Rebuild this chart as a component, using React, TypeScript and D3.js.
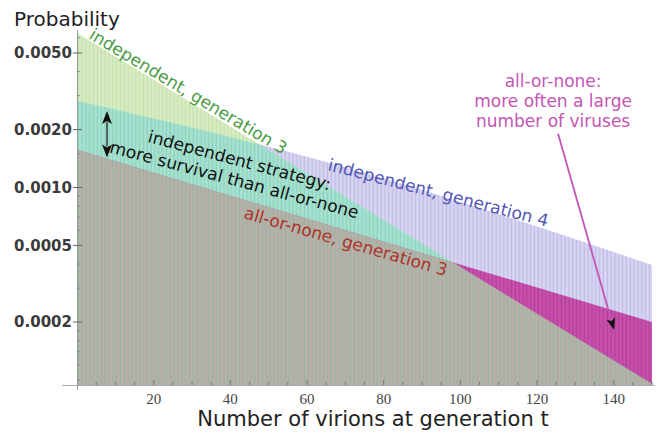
import React from "react";
import * as d3 from "d3";

const WIDTH = 662;
const HEIGHT = 432;

// Probability anchors for each distribution (number of virions -> probability)
const indepGen3X = [0, 150];
const indepGen3P = [0.00635, 0.0000955];
const indepGen4X = [0, 66, 150];
const indepGen4P = [0.00282, 0.00134, 0.000396];
const allOrNoneGen3X = [0, 150];
const allOrNoneGen3P = [0.00157, 0.0002];

// Axes
const xDomain = [0, 150];
const yDomain = [0.0000941, 0.006584];
const xTickValues = [20, 40, 60, 80, 100, 120, 140];
const xMinorValues = d3.range(5, 151, 5);
const yTickValues = [0.0002, 0.0005, 0.001, 0.002, 0.005];
const yTickLabels = ["0.0002", "0.0005", "0.0010", "0.0020", "0.0050"];
const yMinorValues = [
  0.0001, 0.00012, 0.00014, 0.00016, 0.00018, 0.0003, 0.0004, 0.0006, 0.0007,
  0.0008, 0.0009, 0.0015, 0.003, 0.004, 0.006,
];

const FONT = "DejaVu Sans, Verdana, sans-serif";

const fills: Record<string, { base: string; stripe: string; w: number }> = {
  lavender: { base: "#d8d6f2", stripe: "#c0bde6", w: 1.4 },
  green: { base: "#d9edc4", stripe: "#c5e2ad", w: 1.4 },
  teal: { base: "#a9e2d1", stripe: "#8dd3bf", w: 1.4 },
  magenta: { base: "#c851ad", stripe: "#b4409a", w: 1.4 },
  gray: { base: "#bfaeaa", stripe: "#9ab5a3", w: 1.7 },
};

export default function App() {
  const x = d3.scaleLinear().domain(xDomain).range([77, 652]);
  const y = d3.scaleLog().domain(yDomain).range([385, 30]);
  const yBase = y.range()[0];
  const step = x(1) - x(0);

  const areaOf = (xs: number[], ps: number[], curve: d3.CurveFactory) =>
    d3
      .area<number>()
      .x((_, i) => x(xs[i]))
      .y0(yBase)
      .y1((_, i) => y(ps[i]))
      .curve(curve)(xs) as string;

  const areaG = areaOf(indepGen3X, indepGen3P, d3.curveLinear);
  const areaB = areaOf(indepGen4X, indepGen4P, d3.curveMonotoneX);
  const areaA = areaOf(allOrNoneGen3X, allOrNoneGen3P, d3.curveLinear);

  // magenta annotation arrow (data coordinates)
  const arrowFrom = [x(125.5), y(0.0019)];
  const arrowTip = [x(140.1), y(0.000182)];
  const dx = arrowTip[0] - arrowFrom[0];
  const dy = arrowTip[1] - arrowFrom[1];
  const len = Math.hypot(dx, dy);
  const ux = dx / len;
  const uy = dy / len;
  const headL = 12;
  const headW = 4.5;
  const headBase = [arrowTip[0] - ux * headL, arrowTip[1] - uy * headL];
  const head = [
    arrowTip,
    [headBase[0] - uy * headW, headBase[1] + ux * headW],
    [arrowTip[0] - ux * (headL - 3), arrowTip[1] - uy * (headL - 3)],
    [headBase[0] + uy * headW, headBase[1] - ux * headW],
  ];

  // double arrow between the two strategies
  const daX = x(7.83);
  const daTop = y(0.0025);
  const daBot = y(0.00143);
  const dHeadL = 13;
  const dHeadW = 5;

  const label = (
    xv: number,
    pv: number,
    angle: number,
    text: string,
    color: string,
    anchor = "start"
  ) => (
    <text
      transform={`translate(${x(xv)},${y(pv)}) rotate(${angle})`}
      fill={color}
      fontSize={17}
      fontFamily={FONT}
      textAnchor={anchor}
    >
      {text}
    </text>
  );

  return (
    <svg
      width={WIDTH}
      height={HEIGHT}
      style={{ position: "absolute", left: 0, top: 0, background: "#fff" }}
    >
      <defs>
        {Object.entries(fills).map(([k, f]) => (
          <pattern
            key={k}
            id={`p-${k}`}
            patternUnits="userSpaceOnUse"
            x={x(0)}
            y={0}
            width={step}
            height={10}
          >
            <rect width={step} height={10} fill={f.base} />
            <rect x={0.6} width={f.w} height={10} fill={f.stripe} />
          </pattern>
        ))}
        <clipPath id="under-b">
          <path d={areaB} />
        </clipPath>
        <clipPath id="under-a">
          <path d={areaA} />
        </clipPath>
      </defs>

      {/* filled distributions */}
      <path d={areaB} fill="url(#p-lavender)" />
      <path d={areaG} fill="url(#p-green)" />
      <path d={areaG} fill="url(#p-teal)" clipPath="url(#under-b)" />
      <path d={areaA} fill="url(#p-magenta)" />
      <path d={areaG} fill="url(#p-gray)" clipPath="url(#under-a)" />

      {/* x axis */}
      <line x1={62} x2={655} y1={yBase + 0.5} y2={yBase + 0.5} stroke="#aaa" strokeWidth={1} />
      {xMinorValues.map((v) => (
        <line
          key={`xm${v}`}
          x1={x(v)}
          x2={x(v)}
          y1={yBase}
          y2={yBase - (v % 20 === 0 ? 5 : 3)}
          stroke="#777"
          strokeWidth={1}
        />
      ))}
      {xTickValues.map((v) => (
        <text
          key={`xt${v}`}
          x={x(v)}
          y={404}
          textAnchor="middle"
          fontFamily="Liberation Serif, Times New Roman, serif"
          fontSize={15}
          fill="#444"
        >
          {v}
        </text>
      ))}
      <text
        x={373}
        y={426}
        textAnchor="middle"
        fontFamily={FONT}
        fontSize={21}
        fill="#222"
      >
        Number of virions at generation t
      </text>

      {/* y axis */}
      <line x1={77.5} x2={77.5} y1={30} y2={390} stroke="#999" strokeWidth={1} />
      {yMinorValues.map((v) => (
        <line key={`ym${v}`} x1={77} x2={80} y1={y(v)} y2={y(v)} stroke="#888" strokeWidth={1} />
      ))}
      {yTickValues.map((v, i) => (
        <g key={`yt${v}`}>
          <line x1={73} x2={82} y1={y(v)} y2={y(v)} stroke="#666" strokeWidth={1} />
          <text
            x={72}
            y={y(v)}
            dy="0.36em"
            textAnchor="end"
            fontFamily={FONT}
            fontWeight="bold"
            fontSize={15}
            fill="#3a3a3a"
          >
            {yTickLabels[i]}
          </text>
        </g>
      ))}
      <text x={14} y={26} fontFamily={FONT} fontSize={20} fill="#222">
        Probability
      </text>

      {/* curve labels */}
      {label(2.87, 0.00598, 31, "independent, generation 3", "#4b9c44")}
      {label(65.2, 0.001233, 14.5, "independent, generation 4", "#5357b5")}
      {label(43.3, 0.000694, 16, "all-or-none, generation 3", "#b0322a")}
      <g transform={`translate(${x(42)},${y(0.001293)}) rotate(15)`}>
        <text textAnchor="middle" fontFamily={FONT} fontSize={17} fill="#111" y={0}>
          independent strategy:
        </text>
        <text textAnchor="middle" fontFamily={FONT} fontSize={17} fill="#111" y={20}>
          more survival than all-or-none
        </text>
      </g>

      {/* double arrow */}
      <line x1={daX} x2={daX} y1={daTop + dHeadL - 2} y2={daBot - dHeadL + 2} stroke="#222" strokeWidth={1.3} />
      <polygon
        points={`${daX},${daTop} ${daX - dHeadW},${daTop + dHeadL} ${daX},${daTop + dHeadL - 3} ${daX + dHeadW},${daTop + dHeadL}`}
        fill="#111"
      />
      <polygon
        points={`${daX},${daBot} ${daX - dHeadW},${daBot - dHeadL} ${daX},${daBot - dHeadL + 3} ${daX + dHeadW},${daBot - dHeadL}`}
        fill="#111"
      />

      {/* all-or-none annotation */}
      <g fontFamily={FONT} fontSize={17} fill="#c455b4" textAnchor="middle">
        <text x={x(124.2)} y={y(0.00333)}>all-or-none:</text>
        <text x={x(124.2)} y={y(0.00333) + 20}>more often a large</text>
        <text x={x(124.2)} y={y(0.00333) + 40}>number of viruses</text>
      </g>
      <line
        x1={arrowFrom[0]}
        y1={arrowFrom[1]}
        x2={headBase[0] + ux * 2}
        y2={headBase[1] + uy * 2}
        stroke="#c455b4"
        strokeWidth={1.8}
      />
      <polygon points={head.map((p) => p.join(",")).join(" ")} fill="#111" />
    </svg>
  );
}
